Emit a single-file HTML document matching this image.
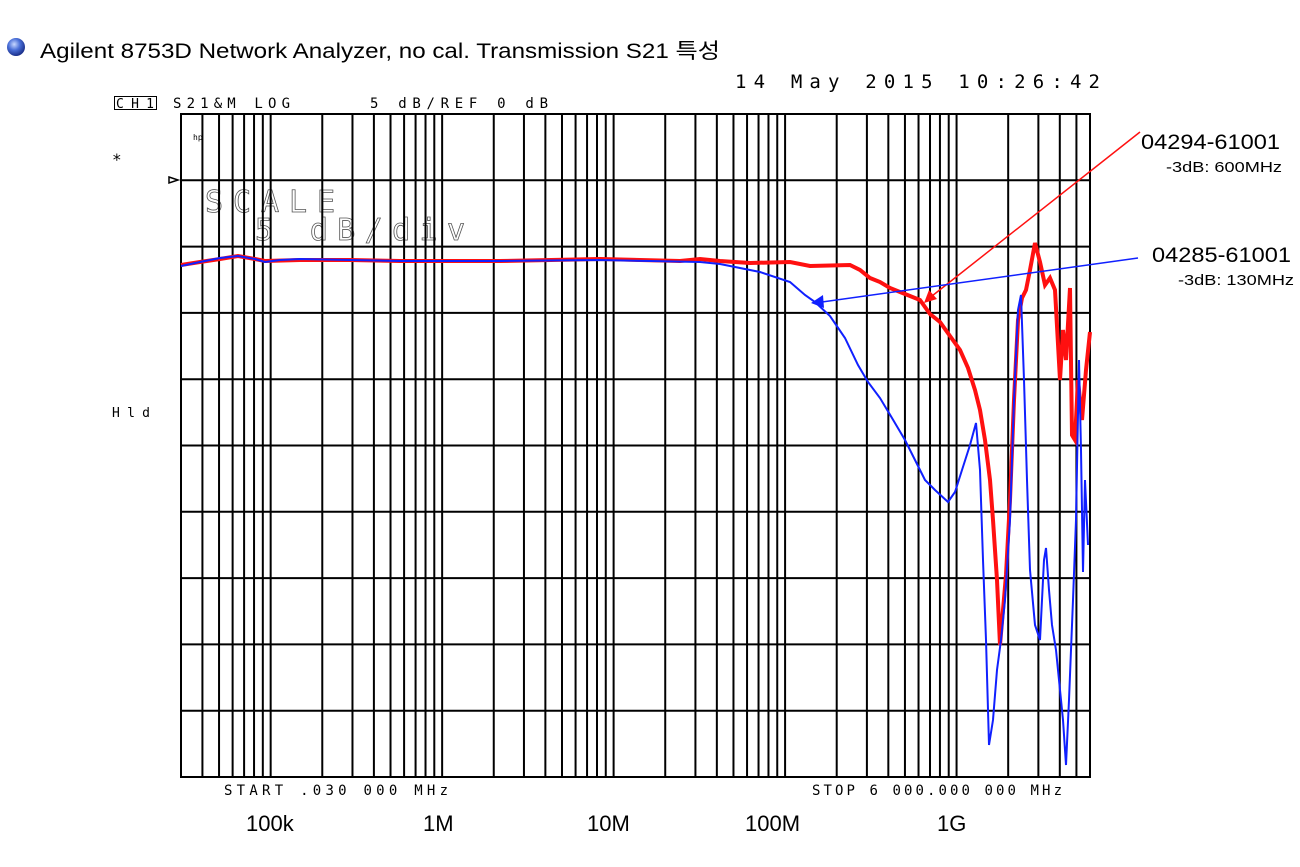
<!DOCTYPE html>
<html><head><meta charset="utf-8"><style>
html,body{margin:0;padding:0;background:#fff;width:1300px;height:867px;overflow:hidden}
svg{display:block}
.m{font-family:"DejaVu Sans Mono","Liberation Mono",monospace;}
</style></head><body>
<svg id="s" width="1300" height="867" xmlns="http://www.w3.org/2000/svg">
<defs><radialGradient id="g" cx="40%" cy="35%" r="65%"><stop offset="0" stop-color="#c8d8ff"/><stop offset="0.5" stop-color="#4a6fd8"/><stop offset="1" stop-color="#1a2f8a"/></radialGradient></defs>
<circle cx="16" cy="47" r="9" fill="url(#g)"/>
<text x="40" y="58" font-family="Liberation Sans, Noto Sans CJK KR, sans-serif" font-size="21" textLength="680" lengthAdjust="spacingAndGlyphs">Agilent 8753D Network Analyzer, no cal. Transmission S21 특성</text>
<text x="735" y="88" class="m" font-size="19" textLength="365" lengthAdjust="spacing">14 May 2015  10:26:42</text>
<rect x="114.5" y="96.5" width="42" height="13" fill="none" stroke="#000"/>
<text x="116" y="108" class="m" font-size="13" textLength="38">CH1</text>
<text x="173" y="108" class="m" font-size="14" textLength="117" lengthAdjust="spacing">S21&amp;M LOG</text>
<text x="370" y="108" class="m" font-size="14" textLength="178" lengthAdjust="spacing">5 dB/REF 0 dB</text>
<text x="112" y="165" class="m" font-size="16">*</text>
<text x="193" y="140" class="m" font-size="8">hp</text>
<path d="M169 177 L178 180 L169 183 Z" fill="none" stroke="#000" stroke-width="1.5"/>
<text x="205" y="212" class="m" font-size="30" fill="none" stroke="#555" stroke-width="0.8" textLength="130" lengthAdjust="spacing">SCALE</text>
<text x="255" y="240" class="m" font-size="30" fill="none" stroke="#555" stroke-width="0.8" textLength="210" lengthAdjust="spacing">5 dB/div</text>
<text x="112" y="417" class="m" font-size="13" textLength="38" lengthAdjust="spacing">Hld</text>
<g id="grid" stroke="#000" stroke-width="2"></g>
<rect x="181" y="114" width="909" height="663" fill="none" stroke="#000" stroke-width="2"/>
<polyline fill="none" stroke="#ff1010" stroke-width="4" points="181,265 200,262 220,259 238,256 255,259 265,261 300,260 350,260 400,261 500,261 600,259 640,260 680,261 700,259 720,261 750,263 790,262 810,266 850,265 860,270 870,278 880,282 890,288 900,292 910,296 920,300 930,314 940,322 950,336 960,350 968,368 975,390 980,410 985,440 990,480 993,520 997,580 1000,645 1003,610 1006,575 1010,500 1014,400 1018,320 1022,298 1026,290 1030,270 1035,243 1040,262 1045,285 1050,278 1055,290 1060,380 1063,330 1066,360 1070,288 1072,435 1075,440 1078,380 1082,420 1086,370 1090,332"/>
<polyline fill="none" stroke="#1020ff" stroke-width="2" points="181,266 200,262 220,258 238,256 255,259 265,262 280,260 300,259 350,260 400,261 500,261 600,260 650,261 700,262 720,264 740,268 760,272 790,282 805,295 815,302 830,316 845,338 858,365 868,382 880,398 892,418 905,440 915,460 925,480 935,490 948,502 955,492 962,470 970,445 976,423 980,470 983,560 986,640 989,745 993,720 997,670 1001,640 1005,600 1010,520 1014,400 1018,310 1021,295 1024,380 1027,480 1030,570 1035,625 1040,640 1044,560 1046,548 1049,590 1052,625 1056,650 1060,690 1063,720 1066,765 1069,700 1073,600 1076,520 1079,360 1081,450 1083,572 1085,480 1088,545"/>
<line x1="1140" y1="132" x2="932" y2="296" stroke="#ff1010" stroke-width="1.5"/>
<path d="M924 303 L929 290 L937 299 Z" fill="#ff1010"/>
<line x1="1138" y1="258" x2="822" y2="302" stroke="#1020ff" stroke-width="1.5"/>
<path d="M811 303 L823 295 L824 308 Z" fill="#1020ff"/>
<g font-family="Liberation Sans, sans-serif">
<text x="1141" y="149" font-size="21" textLength="139" lengthAdjust="spacingAndGlyphs">04294-61001</text>
<text x="1166" y="172" font-size="15" textLength="116" lengthAdjust="spacingAndGlyphs">-3dB: 600MHz</text>
<text x="1152" y="262" font-size="21" textLength="139" lengthAdjust="spacingAndGlyphs">04285-61001</text>
<text x="1178" y="285" font-size="15" textLength="116" lengthAdjust="spacingAndGlyphs">-3dB: 130MHz</text>
<text x="246" y="831" font-size="22">100k</text>
<text x="423" y="831" font-size="22">1M</text>
<text x="587" y="831" font-size="22">10M</text>
<text x="745" y="831" font-size="22">100M</text>
<text x="937" y="831" font-size="22">1G</text>
</g>
<text x="224" y="795" class="m" font-size="14" textLength="224" lengthAdjust="spacing">START  .030 000 MHz</text>
<text x="812" y="795" class="m" font-size="14" textLength="250" lengthAdjust="spacing">STOP 6 000.000 000 MHz</text>
</svg>
<script>
var g=document.getElementById('grid'),ns='http://www.w3.org/2000/svg',L=181,R=1090,T=114,B=777,pd=(R-L)/Math.log10(6e9/3e4);
function ln(a,b,c,d){var e=document.createElementNS(ns,'line');e.setAttribute('x1',a);e.setAttribute('y1',b);e.setAttribute('x2',c);e.setAttribute('y2',d);g.appendChild(e);}
for(var i=1;i<10;i++){var y=T+(B-T)*i/10;ln(L,y,R,y);}
for(var d=1e4;d<1e10;d*=10)for(var k=1;k<10;k++){var f=d*k;if(f<=3e4||f>=6e9)continue;var x=L+pd*Math.log10(f/3e4);ln(x,T,x,B);}
</script>
</body></html>
